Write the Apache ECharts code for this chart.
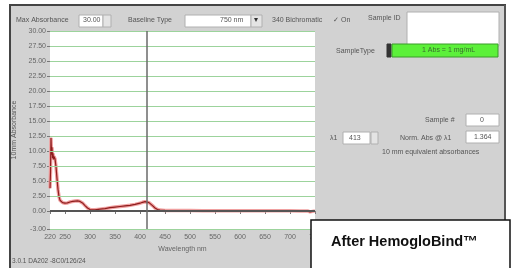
<!DOCTYPE html>
<html>
<head>
<meta charset="utf-8">
<script src="https://cdn.jsdelivr.net/npm/echarts@6/dist/echarts.min.js"></script>
<style>
html, body { margin: 0; padding: 0; background: #fff; }
#chart { width: 512px; height: 268px; }
</style>
</head>
<body>
<div id="chart"></div>
<script>
// spectrum (nm, 10mm absorbance)
const wavelength = [220, 221, 222, 223, 224, 225, 226, 227, 228, 230, 232, 234, 236, 238, 240, 245, 250, 255, 260, 265, 270, 275, 280, 285, 290, 295, 300, 310, 320, 330, 340, 350, 360, 370, 380, 390, 400, 405, 410, 413, 418, 425, 430, 435, 440, 450, 475, 500, 525, 550, 575, 600, 625, 650, 675, 700, 720, 735, 740, 750];
const absorbance = [3.8, 6.5, 12.2, 9.4, 10.6, 8.8, 9.6, 8.6, 9.1, 8.7, 7.4, 5.4, 3.6, 2.4, 1.8, 1.4, 1.3, 1.35, 1.5, 1.6, 1.65, 1.7, 1.6, 1.35, 0.9, 0.5, 0.25, 0.2, 0.3, 0.4, 0.55, 0.65, 0.75, 0.85, 0.95, 1.1, 1.3, 1.45, 1.55, 1.55, 1.4, 0.9, 0.5, 0.25, 0.15, 0.1, 0.08, 0.07, 0.06, 0.06, 0.05, 0.05, 0.04, 0.04, 0.03, 0.03, 0.02, 0.01, -0.15, 0.02];
const xTicks = [220, 250, 300, 350, 400, 450, 500, 550, 600, 650, 700, 750];
const yTicks = [-3, 0, 2.5, 5, 7.5, 10, 12.5, 15, 17.5, 20, 22.5, 25, 27.5, 30];
const gridValues = [2.5, 5, 7.5, 10, 12.5, 15, 17.5, 20, 22.5, 25, 27.5, 30];
const markerNm = 413;

const points = wavelength.map((w, i) => [w, absorbance[i]]);

const small = { fontFamily: 'Liberation Sans', fontSize: 7, fill: '#555' };
function label(x, y, text, extra) {
  return { type: 'text', x: x, y: y, z: 5, style: Object.assign({ text: text }, small, extra || {}) };
}
function box(x, y, w, h, fill, stroke) {
  return { type: 'rect', z: 4, shape: { x: x, y: y, width: w, height: h },
    style: { fill: fill || '#fff', stroke: stroke || '#b0b0b0', lineWidth: 1 } };
}

var myChart = echarts.init(document.getElementById('chart'));
var option = {
  animation: false,
  backgroundColor: '#fff',
  grid: {
    left: 50, top: 31, width: 265, height: 198,
    show: true, backgroundColor: '#fff', borderWidth: 0
  },
  xAxis: {
    type: 'value', min: 220, max: 750,
    axisLine: { show: false },
    splitLine: { show: false },
    axisTick: { show: true, customValues: xTicks, length: 3, inside: false, lineStyle: { color: '#777' } },
    axisLabel: { customValues: xTicks, color: '#666', fontSize: 7, fontFamily: 'Liberation Sans', margin: 5 },
    name: 'Wavelength nm', nameLocation: 'middle', nameGap: 17,
    nameTextStyle: { color: '#666', fontSize: 7, fontFamily: 'Liberation Sans' }
  },
  yAxis: {
    type: 'value', min: -3, max: 30,
    axisLine: { show: false },
    splitLine: { show: false },
    axisTick: { show: true, customValues: yTicks, length: 3, lineStyle: { color: '#777' } },
    axisLabel: {
      customValues: yTicks, color: '#666', fontSize: 7, fontFamily: 'Liberation Sans', margin: 4,
      formatter: v => v.toFixed(2)
    },
    name: '10mm Absorbance', nameLocation: 'middle', nameGap: 29,
    nameTextStyle: { color: '#555', fontSize: 7, fontFamily: 'Liberation Sans' }
  },
  series: [
    {
      type: 'line', data: points, showSymbol: false, silent: true,
      lineStyle: { color: '#f0a0a0', width: 3.5 },
      markLine: {
        symbol: 'none', silent: true, label: { show: false },
        lineStyle: { color: '#9cd39c', width: 1, type: 'solid' },
        data: gridValues.map(v => ({ yAxis: v })).concat([
          { yAxis: -3, lineStyle: { color: '#9cd39c', width: 1 } },
          { yAxis: 0, lineStyle: { color: '#555', width: 2 } },
          { xAxis: markerNm, lineStyle: { color: '#6a6a6a', width: 1.5 } }
        ])
      }
    },
    {
      type: 'line', data: points, showSymbol: false, silent: true,
      lineStyle: { color: '#8e1d1d', width: 1.2 }
    }
  ],
  graphic: [
    // panel background and frame
    { type: 'rect', z: -10, shape: { x: 9, y: 5, width: 497, height: 263 }, style: { fill: '#d2d2d2' } },
    { type: 'line', z: 6, shape: { x1: 9, y1: 5, x2: 506, y2: 5 }, style: { stroke: '#444', lineWidth: 2 } },
    { type: 'line', z: 6, shape: { x1: 10, y1: 5, x2: 10, y2: 268 }, style: { stroke: '#444', lineWidth: 2 } },
    { type: 'line', z: 6, shape: { x1: 505, y1: 5, x2: 505, y2: 268 }, style: { stroke: '#555', lineWidth: 2 } },
    // top control row
    label(16, 17, 'Max Absorbance'),
    box(79, 15, 24, 12), label(83, 17, '30.00'),
    box(103, 15, 8, 12, '#e4e4e4'),
    label(128, 17, 'Baseline Type'),
    box(185, 15, 66, 12), label(220, 17, '750 nm'),
    box(251, 15, 11, 12, '#e4e4e4'), label(254, 16, '▾', { fill: '#333', fontSize: 8 }),
    label(272, 17, '340 Bichromatic'),
    label(333, 17, '✓ On'),
    label(368, 15, 'Sample ID'),
    box(407, 12, 92, 34),
    // right side fields
    label(336, 48, 'SampleType'),
    box(387, 44, 4, 13, '#333', '#333'),
    box(392, 44, 106, 13, '#5cf03a', '#3a9a2a'), label(422, 47, '1 Abs = 1 mg/mL', { fill: '#3a6a30' }),
    label(425, 117, 'Sample #'),
    box(466, 114, 33, 12), label(480, 117, '0'),
    label(330, 135, 'λ1'),
    box(343, 132, 27, 12), label(349, 135, '413'),
    box(371, 132, 7, 12, '#e4e4e4'),
    label(400, 135, 'Norm. Abs @ λ1'),
    box(466, 131, 33, 12), label(474, 134, '1.364'),
    label(382, 149, '10 mm equivalent absorbances'),
    // version string
    label(12, 258, '3.0.1 DA202 -8C0/126/24', { fontSize: 6.5 }),
    // caption box
    { type: 'rect', z: 100, shape: { x: 311, y: 220, width: 199, height: 50 },
      style: { fill: '#fff', stroke: '#111', lineWidth: 1.5 } },
    { type: 'text', z: 101, x: 331, y: 234,
      style: { text: 'After HemogloBind™', fontFamily: 'Liberation Sans', fontWeight: 'bold', fontSize: 14.5, fill: '#111' } }
  ]
};
myChart.setOption(option);
window.addEventListener('resize', function () {
  myChart.resize();
});
</script>
</body>
</html>
